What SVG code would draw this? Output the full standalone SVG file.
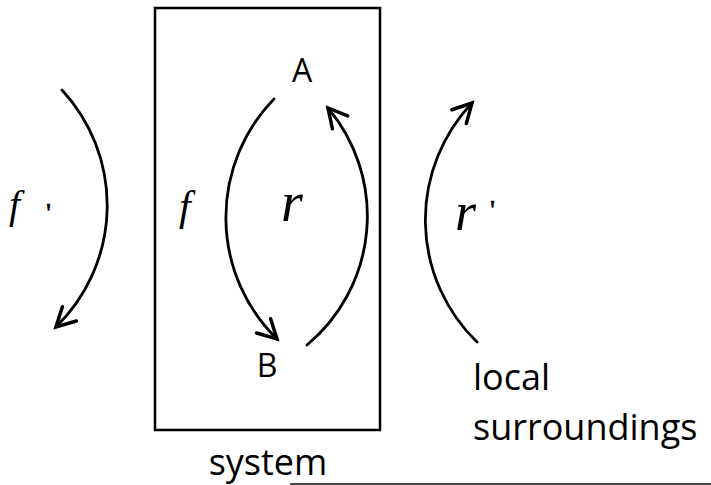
<svg xmlns="http://www.w3.org/2000/svg" width="711" height="485" viewBox="0 0 711 485">
<style>
.arc{fill:none;stroke:#000;stroke-width:2.8;stroke-linecap:round}
.lbl{font-family:"Open Sans","Liberation Sans",sans-serif;fill:#000}
.math{font-family:"Liberation Serif","DejaVu Serif",serif;font-style:italic;fill:#000}
.prime{font-family:"Liberation Serif","DejaVu Serif",serif;fill:#000;stroke:#000;stroke-width:0.6}
</style>
<defs>
<marker id="ah" markerUnits="userSpaceOnUse" markerWidth="30" markerHeight="30" refX="0" refY="0" viewBox="-20 -12 24 24" orient="auto">
<path d="M-15,-8 L0,0 L-15,8" fill="none" stroke="#000" stroke-width="2.8" stroke-linecap="round" stroke-linejoin="miter"/>
</marker>
</defs>
<rect width="711" height="485" fill="#fff"/>
<g id="system">
<rect x="155" y="8" width="225" height="422" fill="none" stroke="#000" stroke-width="2.5"/>
<text class="lbl" x="268" y="475" font-size="36" text-anchor="middle">system</text>
</g>
<g id="nodeA"><text class="lbl" x="302" y="82" font-size="32" text-anchor="middle">A</text></g>
<g id="nodeB"><text class="lbl" x="267" y="377" font-size="32" text-anchor="middle">B</text></g>
<g id="surroundings">
<text class="lbl" x="473" y="390" font-size="36">local</text>
<text class="lbl" x="473" y="440" font-size="36">surroundings</text>
</g>
<g id="connectors">
<path class="arc" d="M274,99 A170,170 0 0 0 277,339" marker-end="url(#ah)"/>
<path class="arc" d="M307,345 A168,168 0 0 0 328,108" marker-end="url(#ah)"/>
<path class="arc" d="M62,90 A170,170 0 0 1 56,327" marker-end="url(#ah)"/>
<path class="arc" d="M477,342 A170,170 0 0 1 472,103" marker-end="url(#ah)"/>
</g>
<g id="labels">
<text class="math" x="9" y="218" font-size="40">f</text>
<text class="prime" x="46" y="222" font-size="28">'</text>
<text class="math" x="179" y="220" font-size="42">f</text>
<text class="math" x="281" y="221" font-size="56">r</text>
<text class="math" x="455" y="230" font-size="54">r</text>
<text class="prime" x="490" y="219" font-size="28">'</text>
</g>
<line x1="290" y1="484" x2="711" y2="484" stroke="#444" stroke-width="2"/>
</svg>
